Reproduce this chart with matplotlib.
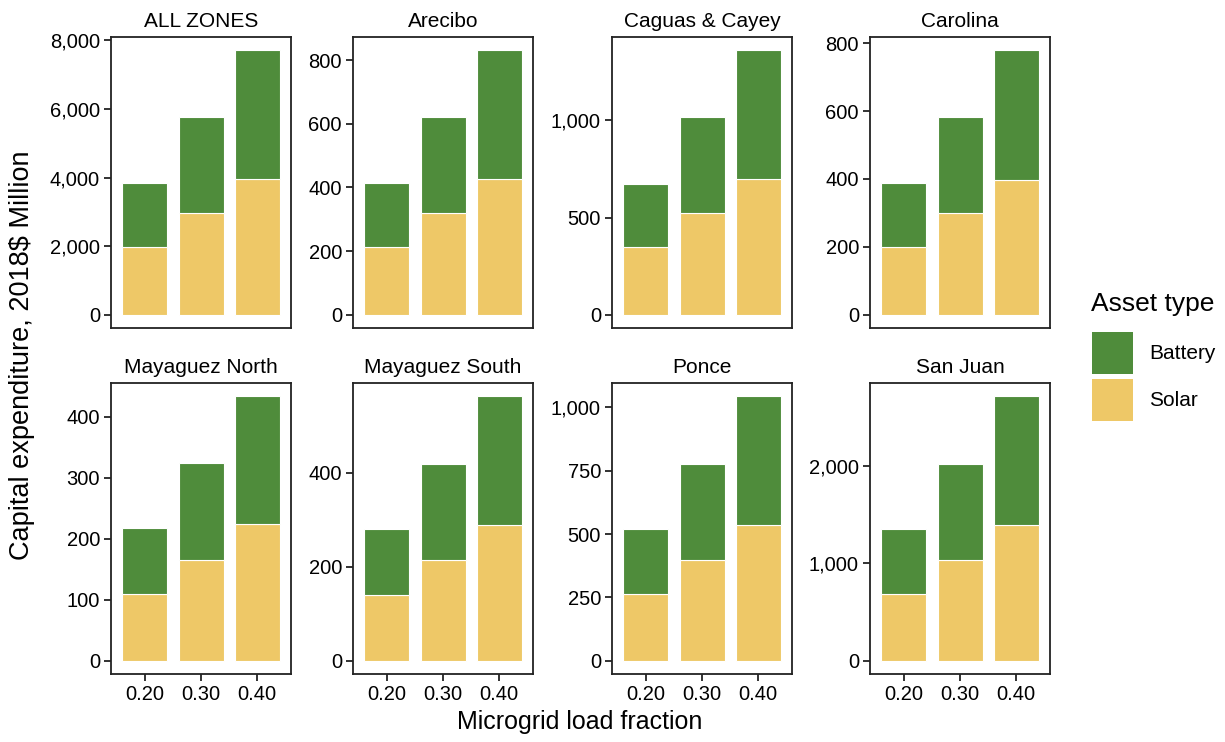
import matplotlib
matplotlib.use("Agg")
import matplotlib.pyplot as plt
import numpy as np
from matplotlib.patches import Patch

plt.rcParams['font.family'] = ['Liberation Sans', 'DejaVu Sans']

# microgrid load fractions on the x axis
fractions = [0.20, 0.30, 0.40]

zones = ["ALL ZONES", "Arecibo", "Caguas & Cayey", "Carolina",
         "Mayaguez North", "Mayaguez South", "Ponce", "San Juan"]

# solar capex per zone (2018$ Million)
solar = [
    [1975, 2975, 3970],
    [214, 321, 425],
    [350, 526, 696],
    [200, 301, 398],
    [110, 166, 224],
    [141, 215, 289],
    [262, 397, 536],
    [680, 1030, 1392],
]
# battery capex per zone
battery = [
    [1880, 2805, 3745],
    [199, 299, 406],
    [325, 489, 665],
    [187, 280, 381],
    [107, 159, 210],
    [139, 204, 274],
    [258, 381, 508],
    [670, 990, 1319],
]

yticks = [
    [0, 2000, 4000, 6000, 8000],
    [0, 200, 400, 600, 800],
    [0, 500, 1000],
    [0, 200, 400, 600, 800],
    [0, 100, 200, 300, 400],
    [0, 200, 400],
    [0, 250, 500, 750, 1000],
    [0, 1000, 2000],
]

green = "#4f8c3b"
yellow = "#eec867"

fig = plt.figure(figsize=(12.25, 7.42), dpi=100)

lefts = [111, 353, 612, 870]
tops = [37, 383]
pw, ph = 180, 291
W, H = 1225, 742

for k, zone in enumerate(zones):
    r, c = divmod(k, 4)
    ax = fig.add_axes([lefts[c] / W, 1 - (tops[r] + ph) / H, pw / W, ph / H])
    s = np.array(solar[k])
    b = np.array(battery[k])
    ax.bar(fractions, s, width=0.08, color=yellow, edgecolor="white", linewidth=0.8)
    ax.bar(fractions, b, bottom=s, width=0.08, color=green, edgecolor="white", linewidth=0.8)
    top = (s + b).max()
    ax.set_ylim(-0.05 * top, top * 1.05)
    ax.set_xlim(0.14, 0.46)
    ax.set_yticks(yticks[k])
    ax.set_yticklabels([f"{v:,}" for v in yticks[k]])
    ax.set_xticks(fractions)
    ax.tick_params(labelsize=14.5, width=1.3, length=5, color="#222222", pad=3)
    if r == 1:
        ax.set_xticklabels([f"{v:.2f}" for v in fractions])
    else:
        ax.set_xticklabels([])
        ax.tick_params(axis="x", length=0)
    for sp in ax.spines.values():
        sp.set_linewidth(1.3)
        sp.set_color("#222222")
    ax.set_title(zone, fontsize=15, pad=7)

fig.text(22 / W, 1 - 355 / H, "Capital expenditure, 2018$ Million", rotation=90,
         ha="center", va="center", fontsize=19.5)
fig.text(580 / W, 1 - 722 / H, "Microgrid load fraction", ha="center", va="center", fontsize=18)

# legend, title drawn separately to get the ggplot spacing
fig.text(1091 / W, 1 - 304 / H, "Asset type", ha="left", va="center", fontsize=19)
handles = [Patch(facecolor=green, edgecolor="none"), Patch(facecolor=yellow, edgecolor="none")]
leg = fig.legend(handles, ["Battery", "Solar"], loc="upper left",
                 bbox_to_anchor=(1092 / W, 1 - 332 / H), frameon=False, fontsize=15,
                 handlelength=1.97, handleheight=2.73,
                 handletextpad=0.77, labelspacing=0.22, borderaxespad=0, borderpad=0)

fig.savefig("out.png", dpi=100, facecolor="white")
